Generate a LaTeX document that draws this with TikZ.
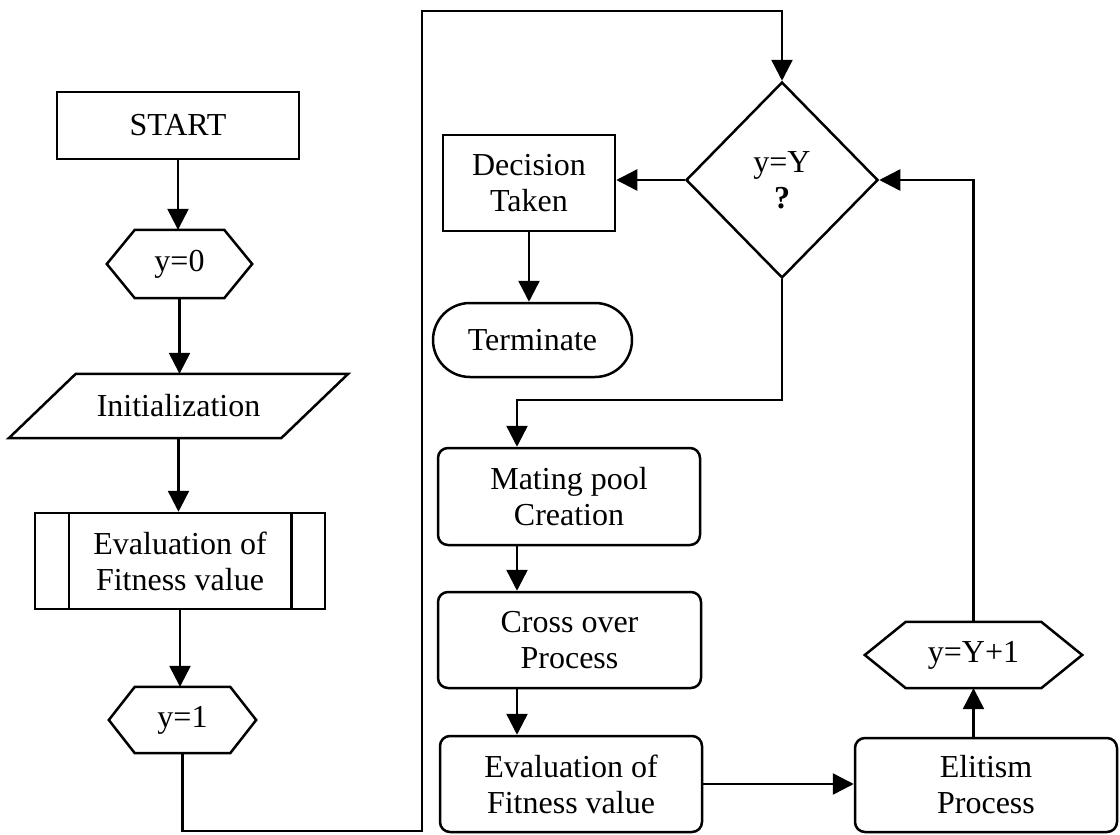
\documentclass[tikz,border=0pt]{standalone}
\usepackage{fontspec}
\setmainfont{Liberation Serif}
\usetikzlibrary{arrows.meta,shapes.geometric,shapes.misc}

% hexagon outline around a node: #1 = node name, #2 = chamfer width
\newcommand\drawhexagon[2]{%
  \draw[outline] ([xshift=#2]#1.north west) -- ([xshift=-#2]#1.north east)
    -- (#1.east) -- ([xshift=-#2]#1.south east) -- ([xshift=#2]#1.south west)
    -- (#1.west) -- cycle;}

\begin{document}
\begin{tikzpicture}[
  x=1pt, y=-1pt,
  outline/.style={line width=2.5pt, line join=miter},
  every node/.style={font=\fontsize{32}{36}\selectfont, align=center, inner sep=0pt},
  plainbox/.style={outline, draw, rectangle},
  procbox/.style={outline, draw, rectangle, rounded corners=10pt},
  hexbox/.style={rectangle},
  slantbox/.style={rectangle},
  decisionbox/.style={outline, draw, diamond},
  termbox/.style={outline, draw, rounded rectangle},
  flow/.style={line width=2.5pt, -{Triangle[length=21pt,width=21pt]}}
]
\useasboundingbox (0,0) rectangle (1120,835);

% left column
\node[plainbox, minimum width=242pt, minimum height=67pt] (start) at (178,125.5) {START};
\node[hexbox, minimum width=145pt, minimum height=68pt] (y0) at (179.5,264) {y=0};
\drawhexagon{y0}{28pt}
\node[slantbox, minimum width=339pt, minimum height=64pt] (init) at (178.5,406) {Initialization};
\draw[outline] ([xshift=67pt]init.north west) -- (init.north east)
  -- ([xshift=-67pt]init.south east) -- (init.south west) -- cycle;
\node[plainbox, minimum width=290pt, minimum height=96pt] (eval1) at (180,561) {Evaluation of\\Fitness value};
\draw[outline] ([xshift=35pt]eval1.north west) -- ([xshift=35pt]eval1.south west);
\draw[outline] ([xshift=-35pt]eval1.north east) -- ([xshift=-35pt]eval1.south east);
\node[hexbox, minimum width=147pt, minimum height=66pt] (y1) at (182.5,720) {y=1};
\drawhexagon{y1}{26pt}

% decision and termination
\node[decisionbox, minimum width=192pt, minimum height=196pt] (test) at (782,180) {y=Y\\\textbf{?}};
\node[plainbox, minimum width=172pt, minimum height=96pt] (decide) at (529,183) {Decision\\Taken};
\node[termbox, minimum width=199pt, minimum height=74pt] (term) at (532.5,340) {Terminate};

% generation loop
\node[procbox, minimum width=262pt, minimum height=97pt] (mate) at (569,496.5) {Mating pool\\Creation};
\node[procbox, minimum width=263pt, minimum height=96pt] (cross) at (569.5,640) {Cross over\\Process};
\node[procbox, minimum width=262pt, minimum height=96pt] (eval2) at (571,784) {Evaluation of\\Fitness value};
\node[procbox, minimum width=262pt, minimum height=94pt] (elite) at (986,785) {Elitism\\Process};
\node[hexbox, minimum width=217pt, minimum height=66pt] (yinc) at (973.5,655) {y=Y+1};
\drawhexagon{yinc}{41pt}

% routing points
\coordinate (lowleft) at (422,831);
\coordinate (topleft) at (422,11);
\coordinate (bend) at (517,400);

% connectors
\draw[flow] (start.south) -- (start.south |- y0.north);
\draw[flow] (y0.south) -- (y0.south |- init.north);
\draw[flow] (init.south) -- (init.south |- eval1.north);
\draw[flow] (eval1.south) -- (eval1.south |- y1.north);
\draw[flow] (y1.south) |- (lowleft) -- (topleft) -| (test.north);
\draw[flow] (test.west) -- (test.west -| decide.east);
\draw[flow] (decide.south) -- (decide.south |- term.north);
\draw[flow] (test.south) |- (bend) -- (bend |- mate.north);
\draw[flow] (bend |- mate.south) -- (bend |- cross.north);
\draw[flow] (bend |- cross.south) -- (bend |- eval2.north);
\draw[flow] (eval2.east) -- (eval2.east -| elite.west);
\draw[flow] (yinc.south |- elite.north) -- (yinc.south);
\draw[flow] (yinc.north) |- (test.east);
\end{tikzpicture}
\end{document}
